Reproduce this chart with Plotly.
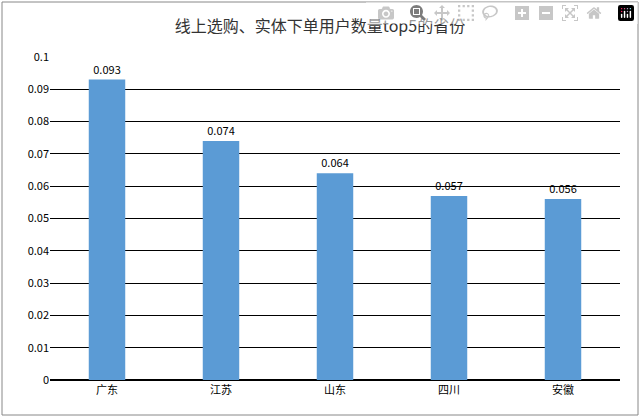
import plotly.graph_objects as go

provinces = ["广东", "江苏", "山东", "四川", "安徽"]
values = [0.093, 0.074, 0.064, 0.057, 0.056]
labels = ["0.093", "0.074", "0.064", "0.057", "0.056"]

fig = go.Figure(go.Bar(
    x=provinces, y=values, text=labels, textposition="outside",
    marker=dict(color="#5b9bd5", line=dict(width=0)),
    textfont=dict(size=11, color="#000"), cliponaxis=False,
))

L, R, T, B, W, H = 50, 20, 57, 37, 640, 417
pw, ph = W - L - R, H - T - B
fig.add_shape(type="rect", xref="paper", yref="paper",
              x0=(2 - L) / pw, x1=(W - 2 - L) / pw,
              y0=(2 - B) / ph, y1=(H - 2 - B) / ph,
              line=dict(color="#888", width=1), layer="below")

fig.update_layout(
    width=W, height=H, margin=dict(l=L, r=R, t=T, b=B),
    paper_bgcolor="white", plot_bgcolor="white",
    font=dict(family="Noto Sans CJK SC, sans-serif", size=11, color="#000"),
    title=dict(text="线上选购、实体下单用户数量top5的省份", x=0.5, y=0.95,
               xanchor="center", font=dict(size=16, color="#333")),
    bargap=0.68, showlegend=False,
    xaxis=dict(showline=True, linecolor="#000", ticks=""),
    yaxis=dict(range=[0, 0.1], dtick=0.01, tickformat="~g", gridcolor="#000",
               gridwidth=1, zeroline=True, zerolinecolor="#000"),
)
fig.write_html("out.html", post_script="document.body.style.margin='0';")
